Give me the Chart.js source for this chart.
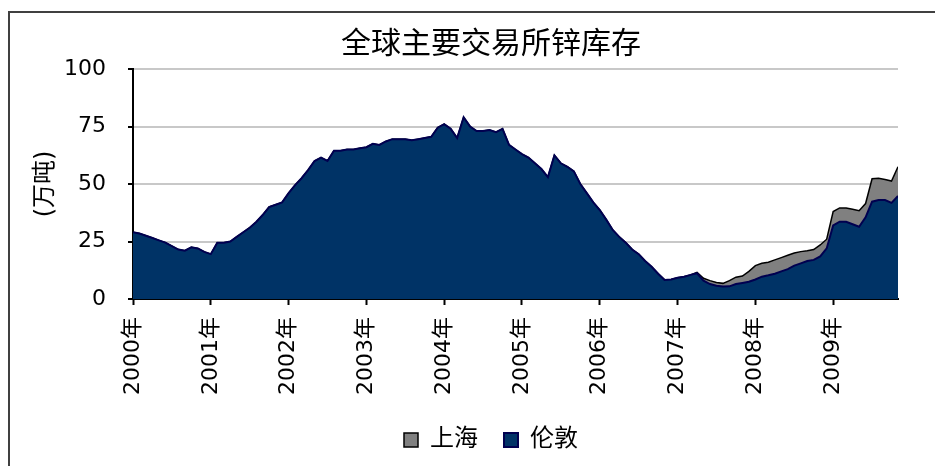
<!DOCTYPE html>
<html><head><meta charset="utf-8">
<script src="https://cdn.jsdelivr.net/npm/chart.js@4"></script>
<style>html,body{margin:0;padding:0;background:#fff;overflow:hidden}#wrap{width:935px;height:466px;position:relative}</style>
</head><body><div id="wrap"><canvas id="c" width="935" height="466"></canvas></div>
<script>
const chartTitle = '全球主要交易所锌库存';
const yTitle = '(万吨)';
const seriesNames = ['伦敦', '上海'];
const years = ['2000年','2001年','2002年','2003年','2004年','2005年','2006年','2007年','2008年','2009年'];
// monthly values from Jan 2000 (万吨)
const london = [
 29, 28.5, 27.5, 26.5, 25.5, 24.5, 23, 21.5, 21, 22.5, 22, 20.5,
 19.5, 24.5, 24.5, 25, 27, 29, 31, 33.5, 36.5, 40, 41, 42,
 46, 49.5, 52.5, 56, 60, 61.5, 60, 64.5, 64.5, 65, 65, 65.5,
 66, 67.5, 67, 68.5, 69.5, 69.5, 69.5, 69, 69.5, 70, 70.5, 74.5,
 76, 74, 70, 79, 75, 73, 73, 73.5, 72.5, 74, 67, 65,
 63, 61.5, 59, 56.5, 53, 62.5, 59, 57.5, 55.5, 50, 46, 42,
 38.7, 34.5, 30, 27, 24.5, 21.5, 19.5, 16.5, 14, 11, 8.3, 8.5,
 9.2, 9.7, 10.5, 11.2, 8, 6.5, 5.8, 5.4, 5.5, 6.5, 7, 7.5,
 8.5, 9.7, 10.3, 11, 12, 13, 14.5, 15.5, 16.5, 17, 18.5, 22,
 32, 33.6, 33.6, 32.5, 31.4, 35.5, 42.3, 43, 43, 41.8, 44.8
];
const shanghai = [
 0, 0, 0, 0, 0, 0, 0, 0, 0, 0, 0, 0,
 0, 0, 0, 0, 0, 0, 0, 0, 0, 0, 0, 0,
 0, 0, 0, 0, 0, 0, 0, 0, 0, 0, 0, 0,
 0, 0, 0, 0, 0, 0, 0, 0, 0, 0, 0, 0,
 0, 0, 0, 0, 0, 0, 0, 0, 0, 0, 0, 0,
 0, 0, 0, 0, 0, 0, 0, 0, 0, 0, 0, 0,
 0, 0, 0, 0, 0, 0, 0, 0, 0, 0, 0, 0,
 0, 0, 0, 0.4, 1, 1.5, 1.4, 1.4, 2.5, 3, 3, 4.5,
 6, 5.8, 5.7, 6, 6, 6, 5.5, 5.1, 4.5, 4.5, 5, 4,
 6, 6, 6, 6.5, 7, 6, 10, 9.5, 9, 9.5, 12.7
];

const FONT = '"DejaVu Sans", "Noto Sans CJK SC", sans-serif';

const framePlugin = {
  id: 'frame',
  beforeDraw(chart) {
    const c = chart.ctx;
    c.save();
    c.strokeStyle = '#404040';
    c.lineWidth = 2;
    c.strokeRect(9, 12, 940, 470);
    c.restore();
  }
};

new Chart(document.getElementById('c'), {
  type: 'line',
  data: {
    datasets: [
      { label: seriesNames[0], data: london.map((v, i) => ({ x: i, y: v })),
        backgroundColor: '#003366', borderColor: '#000050', borderWidth: 2,
        fill: 'origin', pointRadius: 0, tension: 0, yAxisID: 'y' },
      { label: seriesNames[1], data: shanghai.map((v, i) => ({ x: i, y: v })),
        backgroundColor: '#808080', borderColor: '#000000', borderWidth: 1.5,
        fill: '-1', pointRadius: 0, tension: 0, yAxisID: 'y' }
    ]
  },
  options: {
    responsive: false, animation: false, devicePixelRatio: 1,
    layout: { padding: { left: 0, right: -47, top: 0, bottom: 4 } },
    plugins: {
      title: { display: true, text: chartTitle, color: '#000',
               font: { family: FONT, size: 30, weight: 'normal' }, padding: { top: 27, bottom: 6 } },
      legend: { position: 'bottom', reverse: true,
                labels: { color: '#000', font: { family: FONT, size: 24 }, boxWidth: 14, boxHeight: 14, padding: 26 } },
      tooltip: { enabled: false }
    },
    scales: {
      x: { type: 'linear', min: 0, max: london.length - 1, offset: false,
           ticks: { stepSize: 12, includeBounds: false, autoSkip: false, maxRotation: 90, minRotation: 90,
                    padding: 12, color: '#000', font: { family: FONT, size: 22 },
                    callback: (v) => (v % 12 === 0 ? years[v / 12] : '') },
           grid: { display: true, drawOnChartArea: false, drawTicks: true, tickLength: 6, tickColor: '#000', tickWidth: 2 },
           border: { display: true, color: '#000', width: 2 },
           afterFit: (s) => { s.height = 466 - 4 - s.chart.legend.height - 299; } },
      y: { position: 'left', stacked: true, min: 0, max: 100,
           ticks: { stepSize: 25, padding: 22, color: '#000', font: { family: FONT, size: 22 } },
           grid: { color: '#c8c8c8', lineWidth: 2, tickColor: '#000', tickLength: 5, tickWidth: 2 },
           border: { color: '#000', width: 2 },
           title: { display: true, text: yTitle, color: '#000', font: { family: FONT, size: 24 },
                    padding: { top: 31, bottom: 0 } },
           afterFit: (s) => { s.width = 133; } },
      spacer: { position: 'right', display: true,
                ticks: { display: false }, grid: { display: false }, border: { display: false },
                afterFit: (s) => { s.width = 84; } }
    }
  },
  plugins: [framePlugin]
});
</script></body></html>
